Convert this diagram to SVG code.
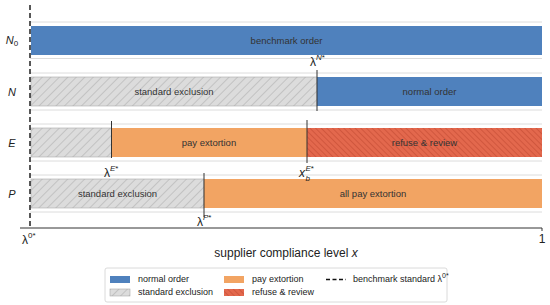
<svg xmlns="http://www.w3.org/2000/svg" width="550" height="305" viewBox="0 0 550 305">
<style>
text{font-family:"Liberation Sans",Arial,sans-serif;fill:#222}
.bar-t{font-size:9.5px;text-anchor:middle;fill:#333}
.row{font-size:11px;font-style:italic;text-anchor:middle}
.grid{stroke:#dcdcdc;stroke-width:1}
.div{stroke:#333;stroke-width:1}
.blue{fill:#4f81bd}
.orange{fill:#f2a463}
.grey{fill:url(#hatchGrey);stroke:#aaa;stroke-width:0.6}
.red{fill:url(#hatchRed)}
.lbl{font-size:12px}
.sup{font-size:8px}
.leg{font-size:9px}
</style>
<defs>
<pattern id="hatchGrey" patternUnits="userSpaceOnUse" width="6" height="6" patternTransform="rotate(45)">
<rect width="6" height="6" fill="#dcdcdc"/>
<line x1="0" y1="0" x2="0" y2="6" stroke="#a8a8a8" stroke-width="1"/>
</pattern>
<pattern id="hatchRed" patternUnits="userSpaceOnUse" width="4" height="4" patternTransform="rotate(-45)">
<rect width="4" height="4" fill="#e3684d"/>
<line x1="0" y1="0" x2="0" y2="4" stroke="#b8432c" stroke-width="0.9"/>
</pattern>
</defs>
<rect width="550" height="305" fill="#fff"/>

<g id="gridlines">
<line class="grid" x1="30" y1="22" x2="542" y2="22"/>
<line class="grid" x1="30" y1="58.5" x2="542" y2="58.5"/>
<line class="grid" x1="30" y1="73" x2="542" y2="73"/>
<line class="grid" x1="30" y1="110" x2="542" y2="110"/>
<line class="grid" x1="30" y1="124" x2="542" y2="124"/>
<line class="grid" x1="30" y1="161" x2="542" y2="161"/>
<line class="grid" x1="30" y1="175" x2="542" y2="175"/>
<line class="grid" x1="30" y1="212" x2="542" y2="212"/>
</g>

<g id="row-N0">
<text class="row" x="12" y="44">N<tspan font-size="8" font-style="normal" dy="2">0</tspan></text>
<rect class="blue" x="31" y="26" width="511" height="29"/>
<text class="bar-t" x="286.5" y="44">benchmark order</text>
</g>

<g id="row-N">
<text class="row" x="12" y="95.5">N</text>
<rect class="grey" x="31" y="77" width="286" height="29"/>
<rect class="blue" x="317" y="77" width="225" height="29"/>
<text class="bar-t" x="174" y="95">standard exclusion</text>
<text class="bar-t" x="429.5" y="95">normal order</text>
</g>

<g id="row-E">
<text class="row" x="12" y="146.5">E</text>
<rect class="grey" x="31" y="128" width="80.5" height="29"/>
<rect class="orange" x="111.5" y="128" width="195.5" height="29"/>
<rect class="red" x="307" y="128" width="235" height="29"/>
<text class="bar-t" x="209" y="146">pay extortion</text>
<text class="bar-t" x="424.5" y="146">refuse &amp; review</text>
</g>

<g id="row-P">
<text class="row" x="12" y="197.5">P</text>
<rect class="grey" x="31" y="179" width="173" height="29"/>
<rect class="orange" x="204" y="179" width="338" height="29"/>
<text class="bar-t" x="117.5" y="197">standard exclusion</text>
<text class="bar-t" x="373" y="197">all pay extortion</text>
</g>

<g id="connectors">
<line class="div" x1="317" y1="70" x2="317" y2="111"/>
<line class="div" x1="111.5" y1="121" x2="111.5" y2="158"/>
<line class="div" x1="307" y1="120" x2="307" y2="163"/>
<line class="div" x1="204" y1="173" x2="204" y2="217"/>
<line x1="30" y1="5" x2="30" y2="229" stroke="#111" stroke-width="1.4" stroke-dasharray="5,3"/>
<line x1="20" y1="228" x2="542" y2="228" stroke="#333" stroke-width="1"/>
<line x1="542" y1="228" x2="542" y2="231" stroke="#333" stroke-width="1"/>
</g>

<g id="threshold-labels">
<text class="lbl" x="310" y="66">λ<tspan class="sup" font-style="italic" dy="-6">N</tspan><tspan class="sup">*</tspan></text>
<text class="lbl" x="104" y="177">λ<tspan class="sup" font-style="italic" dy="-6">E</tspan><tspan class="sup">*</tspan></text>
<text class="lbl" x="299" y="177"><tspan font-style="italic">x</tspan><tspan class="sup" font-style="italic" x="305.5" y="171">E</tspan><tspan class="sup">*</tspan></text>
<text class="sup" x="305.5" y="181" font-style="italic">b</text>
<text class="lbl" x="197" y="226">λ<tspan class="sup" font-style="italic" dy="-6">P</tspan><tspan class="sup">*</tspan></text>
<text class="lbl" x="22" y="244">λ<tspan class="sup" dy="-6">0*</tspan></text>
<text class="lbl" x="542" y="243" text-anchor="middle">1</text>
<text x="286" y="257" font-size="12" text-anchor="middle">supplier compliance level <tspan font-style="italic">x</tspan></text>
</g>

<g id="legend">
<rect x="105" y="268" width="342" height="34" rx="2" fill="#fff" stroke="#d0d0d0" stroke-width="0.8"/>
<rect class="blue" x="110" y="276" width="20" height="7"/>
<text class="leg" x="138" y="282">normal order</text>
<rect class="grey" x="110" y="289" width="20" height="7"/>
<text class="leg" x="138" y="295">standard exclusion</text>
<rect class="orange" x="224" y="276" width="20" height="7"/>
<text class="leg" x="252" y="282">pay extortion</text>
<rect class="red" x="224" y="289" width="20" height="7"/>
<text class="leg" x="252" y="295">refuse &amp; review</text>
<line x1="326" y1="279.5" x2="346" y2="279.5" stroke="#111" stroke-width="1.3" stroke-dasharray="4,2.5"/>
<text class="leg" x="353" y="282">benchmark standard λ<tspan font-size="7" dy="-4">0*</tspan></text>
</g>
</svg>
